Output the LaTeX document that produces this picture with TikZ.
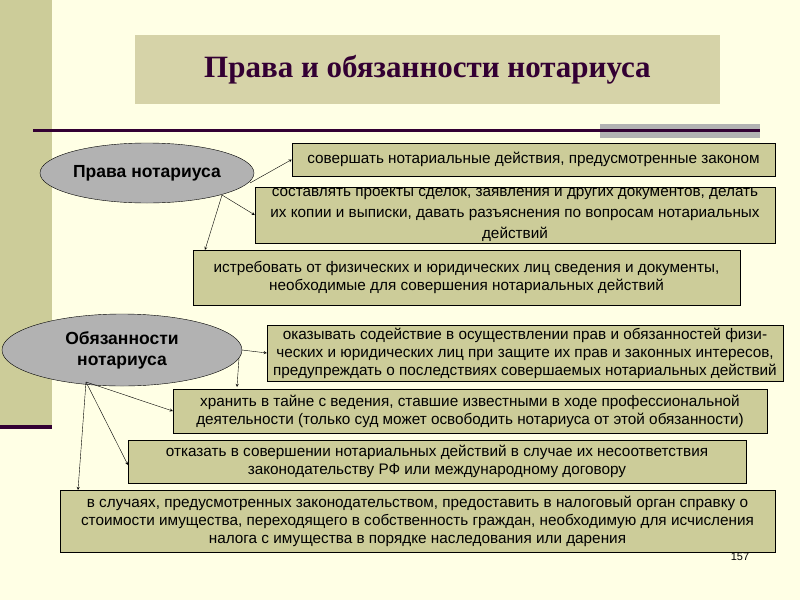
\documentclass[tikz,border=0pt]{standalone}
\usepackage{fontspec}
\setmainfont{Liberation Sans}
\newfontfamily\titlefont{Liberation Serif}
\usetikzlibrary{shapes.geometric}
\definecolor{bgc}{RGB}{255,255,229}
\definecolor{boxc}{RGB}{204,204,153}
\definecolor{titc}{RGB}{214,211,168}
\definecolor{darkc}{RGB}{51,0,51}
\definecolor{elc}{RGB}{178,178,178}
\tikzset{
 tbox/.style={draw=black,fill=boxc,rectangle,inner sep=0pt,align=center,font=\fontsize{15.3}{18}\selectfont},
 ell/.style={draw=black,fill=elc,ellipse,inner sep=0pt,align=center,font=\bfseries\fontsize{17.5}{21}\selectfont},
 arr/.style={->,>=stealth,black,thin}
}
\begin{document}
\begin{tikzpicture}[x=1pt,y=-1pt]
\fill[bgc] (0,0) rectangle (800,600);
\useasboundingbox (0,0) rectangle (800,600);
\fill[boxc] (0,0) rectangle (52,427);
\fill[darkc] (0,425) rectangle (52,429);
\fill[darkc] (33,129) rectangle (760,132);
\fill[elc] (600,124) rectangle (760,138);
\fill[darkc] (600,129) rectangle (760,132);
\node[fill=titc,minimum width=585,minimum height=69,font=\titlefont\bfseries\fontsize{31}{35}\selectfont,text=darkc] (t) at (427.5,69.5) {Права и обязанности нотариуса};
\node[ell,minimum width=214,minimum height=60] (e1) at (147,173) {Права нотариуса};
\node[tbox,minimum width=483,minimum height=33] (a) at (533.5,159.5) {совершать нотариальные действия, предусмотренные законом};
\node[tbox,minimum width=520,minimum height=56,font=\fontsize{15.3}{21}\selectfont] (b) at (515,215) {составлять проекты сделок, заявления и других документов, делать\\их копии и выписки, давать разъяснения по вопросам нотариальных\\действий};
\node[tbox,minimum width=547,minimum height=55] (c) at (466.5,277.5) {истребовать от физических и юридических лиц сведения и документы,\\необходимые для совершения нотариальных действий};
\node[ell,minimum width=240,minimum height=72] (e2) at (122,350) {Обязанности\\нотариуса};
\node[tbox,minimum width=516,minimum height=56] (d) at (525,353) {оказывать содействие в осуществлении прав и обязанностей физи-\\ческих и юридических лиц при защите их прав и законных интересов,\\предупреждать о последствиях совершаемых нотариальных действий};
\node[tbox,minimum width=594,minimum height=44] (e) at (470,411) {хранить в тайне с ведения, ставшие известными в ходе профессиональной\\деятельности (только суд может освободить нотариуса от этой обязанности)};
\node[tbox,minimum width=618,minimum height=43] (f) at (437,461.5) {отказать в совершении нотариальных действий в случае их несоответствия\\законодательству РФ или международному договору};
\node[tbox,minimum width=715,minimum height=62] (g) at (417.5,521) {в случаях, предусмотренных законодательством, предоставить в налоговый орган справку о\\стоимости имущества, переходящего в собственность граждан, необходимую для исчисления\\налога с имущества в порядке наследования или дарения};
\node[font=\fontsize{11}{13}\selectfont] (n) at (740,557) {157};
\coordinate (s1) at (222,195);
\coordinate (s2) at (86,382);
\draw[arr] (250,183) -- (a.west);
\draw[arr] (s1) -- (b.west);
\draw[arr] (s1) -- (205,250);
\draw[arr] (242,350) -- (d.west);
\draw[arr] (239,358) -- (237,387);
\draw[arr] (s2) -- (e.west);
\draw[arr] (s2) -- (128,465);
\draw[arr] (s2) -- (78,490);
\end{tikzpicture}
\end{document}
